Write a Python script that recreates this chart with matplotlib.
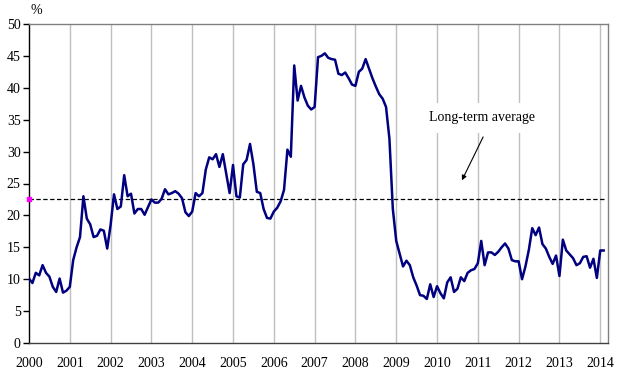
import numpy as np
import matplotlib
matplotlib.use("Agg")
import matplotlib.pyplot as plt

plt.rcParams['font.family'] = ['Liberation Serif', 'DejaVu Serif']

start_year = 2000
values = [
    # 2000
    10.1, 9.4, 11.0, 10.6, 12.2, 11.0, 10.4, 8.8, 8.0, 10.1, 7.9, 8.2,
    # 2001
    8.8, 13.0, 15.0, 16.6, 23.0, 19.5, 18.6, 16.6, 16.8, 17.8, 17.6, 14.8,
    # 2002
    18.5, 23.3, 21.0, 21.4, 26.3, 23.0, 23.4, 20.3, 21.0, 21.0, 20.1, 21.3,
    # 2003
    22.5, 22.0, 22.0, 22.6, 24.1, 23.3, 23.5, 23.8, 23.4, 22.7, 20.5, 19.9,
    # 2004
    20.6, 23.5, 23.0, 23.5, 27.2, 29.1, 28.8, 29.6, 27.6, 29.6, 26.5, 23.5,
    # 2005
    27.9, 23.0, 22.8, 28.0, 28.7, 31.2, 28.0, 23.7, 23.5, 21.0, 19.6, 19.5,
    # 2006
    20.6, 21.2, 22.2, 24.0, 30.3, 29.2, 43.5, 38.0, 40.3, 38.5, 37.2, 36.6,
    # 2007
    37.0, 44.8, 45.0, 45.4, 44.7, 44.5, 44.4, 42.2, 42.0, 42.4, 41.5, 40.5,
    # 2008
    40.3, 42.5, 43.0, 44.5, 43.0, 41.5, 40.2, 39.0, 38.3, 37.0, 32.0, 21.0,
    # 2009
    16.0, 14.0, 12.0, 12.9, 12.2, 10.3, 9.0, 7.5, 7.4, 6.9, 9.2, 7.2,
    # 2010
    8.9, 7.8, 7.0, 9.5, 10.3, 8.0, 8.5, 10.3, 9.7, 11.0, 11.4, 11.6,
    # 2011
    12.5, 16.0, 12.2, 14.2, 14.2, 13.8, 14.3, 15.0, 15.6, 14.8, 13.0, 12.8,
    # 2012
    12.8, 10.0, 12.0, 14.6, 18.0, 16.9, 18.1, 15.5, 14.8, 13.5, 12.4, 13.7,
    # 2013
    10.5, 16.2, 14.5, 13.9, 13.3, 12.2, 12.5, 13.5, 13.6, 11.8, 13.2, 10.2,
    # 2014
    14.5, 14.5,
]
long_term_average = 22.5
year_labels = [str(y) for y in range(2000, 2015)]
y_ticks = list(range(0, 55, 5))
annotation_text = "Long-term average"

x = start_year + np.arange(len(values)) / 12.0

fig = plt.figure(figsize=(6.27, 3.74), dpi=100)
ax = fig.add_axes([29/627, 31/374, 579/627, 319/374])

ax.set_xlim(2000, 2014.19)
ax.set_ylim(0, 50)

years = [int(s) for s in year_labels]
for yr in years[1:]:
    ax.axvline(yr, color='#BFBFBF', lw=1.0, zorder=1)

ax.plot([2000, 2014.15], [long_term_average]*2, color='black', lw=0.9,
        ls=(0, (3.5, 2)), zorder=2)
ax.plot(x, values, color='#000080', lw=1.8, zorder=3, solid_joinstyle='round')
ax.plot([2000], [long_term_average], marker='s', ms=3.5, color='#FF00FF',
        mec='#FF00FF', zorder=5, clip_on=False)

ax.set_xticks(years)
ax.set_xticklabels(year_labels, fontsize=10)
ax.set_yticks(y_ticks)
ax.set_yticklabels([str(v) for v in y_ticks], fontsize=10)
ax.tick_params(axis='x', length=0, pad=10)
ax.tick_params(axis='y', length=4, width=1, direction='out', pad=2)

for s in ['top', 'right', 'bottom']:
    ax.spines[s].set_color('#808080')
ax.spines['bottom'].set_color('#404040')
ax.spines['left'].set_color('black')
for s in ax.spines.values():
    s.set_linewidth(1.0)

ax.text(2011.11, 35.3, annotation_text, ha='center', va='center', fontsize=10,
        bbox=dict(boxstyle='square,pad=0.6', fc='white', ec='none'), zorder=6)
ax.annotate('', xy=(2010.61, 25.5), xytext=(2011.13, 32.3),
            arrowprops=dict(arrowstyle='-|>', color='black', lw=0.8,
                            mutation_scale=7, shrinkA=0, shrinkB=0), zorder=6)

fig.text(36/627, 1 - 10/374, '%', ha='center', va='center', fontsize=10)

fig.savefig('out.png', dpi=100)
